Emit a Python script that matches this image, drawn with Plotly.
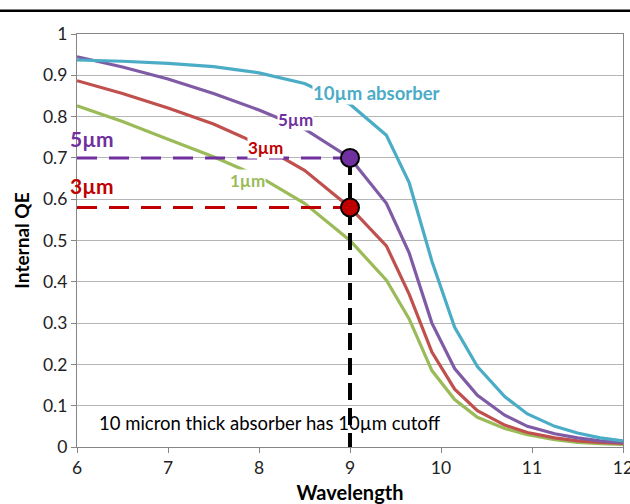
import plotly.graph_objects as go

wavelength = [6.0, 6.5, 7.0, 7.5, 8.0, 8.5, 9.0, 9.4, 9.65, 9.9, 10.15, 10.4, 10.7, 10.95, 11.25, 11.5, 11.75, 12.0]
qe_10um = [0.937, 0.934, 0.929, 0.921, 0.906, 0.88, 0.83, 0.755, 0.64, 0.45, 0.29, 0.195, 0.122, 0.08, 0.05, 0.034, 0.022, 0.015]
qe_5um = [0.945, 0.92, 0.891, 0.856, 0.816, 0.77, 0.70, 0.59, 0.47, 0.30, 0.19, 0.125, 0.077, 0.05, 0.032, 0.022, 0.015, 0.011]
qe_3um = [0.887, 0.856, 0.821, 0.782, 0.733, 0.67, 0.58, 0.487, 0.37, 0.23, 0.14, 0.088, 0.053, 0.035, 0.022, 0.015, 0.011, 0.009]
qe_1um = [0.826, 0.788, 0.745, 0.703, 0.655, 0.59, 0.50, 0.404, 0.31, 0.185, 0.115, 0.072, 0.045, 0.03, 0.018, 0.011, 0.008, 0.006]

cutoff_x = 9.0
qe_at_cutoff_5um = 0.70
qe_at_cutoff_3um = 0.58

C_CYAN = "#4BACC6"
C_PURPLE = "#7F5BA6"
C_RED = "#C0504D"
C_GREEN = "#9BBB59"
C_DARKRED = "#C00000"
C_DPURPLE = "#7030A0"

FONT = "Lato"

fig = go.Figure()
for ys, col in [(qe_1um, C_GREEN), (qe_3um, C_RED), (qe_5um, C_PURPLE), (qe_10um, C_CYAN)]:
    fig.add_trace(go.Scatter(x=wavelength, y=ys, mode="lines",
                             line=dict(color=col, width=3.2), showlegend=False, hoverinfo="skip"))

annots = [
    dict(x=8.58, y=0.857, text="<b>10µm absorber</b>", color=C_CYAN, size=18.5, xanchor="left"),
    dict(x=8.2, y=0.792, text="<b>5µm</b>", color=C_DPURPLE, size=17, xanchor="left"),
    dict(x=7.87, y=0.724, text="<b>3µm</b>", color=C_DARKRED, size=17, xanchor="left"),
    dict(x=7.67, y=0.646, text="<b>1µm</b>", color=C_GREEN, size=17, xanchor="left"),
]
for a in annots:
    fig.add_annotation(x=a["x"], y=a["y"], text=a["text"], showarrow=False,
                       xanchor=a["xanchor"], yanchor="middle",
                       font=dict(family=FONT, size=a["size"], color=a["color"]),
                       bgcolor="white", borderpad=0)

# dashed guide lines
fig.add_trace(go.Scatter(x=[6, cutoff_x], y=[qe_at_cutoff_5um] * 2, mode="lines",
                         line=dict(color=C_DPURPLE, width=3, dash="20px,12px"), showlegend=False))
fig.add_trace(go.Scatter(x=[6, cutoff_x], y=[qe_at_cutoff_3um] * 2, mode="lines",
                         line=dict(color=C_DARKRED, width=3, dash="20px,12px"), showlegend=False))
fig.add_trace(go.Scatter(x=[cutoff_x, cutoff_x], y=[qe_at_cutoff_5um, 0], mode="lines",
                         line=dict(color="black", width=4, dash="17px,8px"), showlegend=False))
fig.add_trace(go.Scatter(x=[cutoff_x], y=[qe_at_cutoff_5um], mode="markers",
                         marker=dict(size=18, color=C_DPURPLE, line=dict(color="black", width=2)),
                         showlegend=False))
fig.add_trace(go.Scatter(x=[cutoff_x], y=[qe_at_cutoff_3um], mode="markers",
                         marker=dict(size=18, color=C_DARKRED, line=dict(color="black", width=2)),
                         showlegend=False))

for txt, col, yy in [("<b>5µm</b>", C_DPURPLE, 0.748), ("<b>3µm</b>", C_DARKRED, 0.634)]:
    fig.add_annotation(x=6.165, y=yy, text=txt, showarrow=False, xanchor="center", yanchor="middle",
                       font=dict(family=FONT, size=21, color=col))

fig.add_annotation(x=6.22, y=0.057, text="10 micron thick absorber has 10µm cutoff", showarrow=False,
                   xanchor="left", yanchor="middle", font=dict(family=FONT, size=18.5, color="black"))

# top rule
fig.add_shape(type="line", xref="paper", yref="paper", x0=-0.2, x1=1.1, y0=1.056, y1=1.056,
              line=dict(color="black", width=2.5))

fig.update_layout(
    width=630, height=504,
    margin=dict(l=77, r=7, t=34, b=57, autoexpand=False),
    plot_bgcolor="white", paper_bgcolor="white",
    font=dict(family=FONT, size=17.5, color="#222222"),
)
fig.update_xaxes(range=[6, 12], dtick=1, showgrid=False, showline=True, linecolor="#868686", linewidth=1.3,
                 mirror=True, ticks="outside", ticklen=5, tickcolor="#868686", zeroline=False,
                 ticklabeloverflow="allow", automargin=False,
                 title=dict(text="<b>Wavelength</b>", font=dict(family=FONT, size=20, color="black"), standoff=10))
fig.update_yaxes(range=[0, 1], dtick=0.1, tickformat="~g", showgrid=True, gridcolor="#B5B5B5", gridwidth=1,
                 showline=True, linecolor="#868686", linewidth=1.3, mirror=True, ticks="outside", ticklen=5,
                 tickcolor="#868686", zeroline=False, automargin=False,
                 title=dict(text="<b>Internal QE</b>", font=dict(family=FONT, size=19, color="black"), standoff=8))

fig.write_html("out.html")
